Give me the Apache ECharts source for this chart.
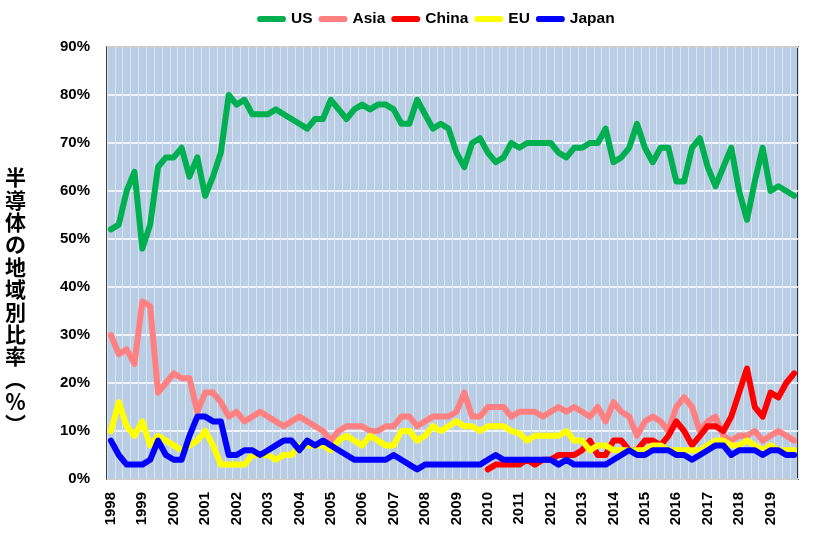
<!DOCTYPE html>
<html>
<head>
<meta charset="utf-8">
<title>半導体の地域別比率</title>
<script src="https://cdn.jsdelivr.net/npm/echarts@6/dist/echarts.min.js"></script>
<style>
html, body { margin: 0; padding: 0; background: #fff; }
#chart-1 { width: 821px; height: 539px; }
</style>
</head>
<body>
<div id="chart-1"></div>
<script>
// quarterly data, 1998Q1 - 2019Q4 (%)
var years = ['1998','1999','2000','2001','2002','2003','2004','2005','2006','2007','2008',
             '2009','2010','2011','2012','2013','2014','2015','2016','2017','2018','2019'];
var quarters = ['Q1','Q2','Q3','Q4'];

var usData = [
    52, 53, 60, 64, 48, 53, 65, 67, 67, 69,
    63, 67, 59, 63, 68, 80, 78, 79, 76, 76,
    76, 77, 76, 75, 74, 73, 75, 75, 79, 77,
    75, 77, 78, 77, 78, 78, 77, 74, 74, 79,
    76, 73, 74, 73, 68, 65, 70, 71, 68, 66,
    67, 70, 69, 70, 70, 70, 70, 68, 67, 69,
    69, 70, 70, 73, 66, 67, 69, 74, 69, 66,
    69, 69, 62, 62, 69, 71, 65, 61, 65, 69,
    60, 54, 62, 69, 60, 61, 60, 59
];
var asiaData = [
    30, 26, 27, 24, 37, 36, 18, 20, 22, 21,
    21, 14, 18, 18, 16, 13, 14, 12, 13, 14,
    13, 12, 11, 12, 13, 12, 11, 10, 8, 10,
    11, 11, 11, 10, 10, 11, 11, 13, 13, 11,
    12, 13, 13, 13, 14, 18, 13, 13, 15, 15,
    15, 13, 14, 14, 14, 13, 14, 15, 14, 15,
    14, 13, 15, 12, 16, 14, 13, 9, 12, 13,
    12, 10, 15, 17, 15, 10, 12, 13, 9, 8,
    9, 9, 10, 8, 9, 10, 9, 8
];
var chinaData = [
    null, null, null, null, null, null, null, null, null, null,
    null, null, null, null, null, null, null, null, null, null,
    null, null, null, null, null, null, null, null, null, null,
    null, null, null, null, null, null, null, null, null, null,
    null, null, null, null, null, null, null, null, 2, 3,
    3, 3, 3, 4, 3, 4, 4, 5, 5, 5,
    6, 8, 5, 5, 8, 8, 6, 6, 8, 8,
    7, 9, 12, 10, 7, 9, 11, 11, 10, 13,
    18, 23, 15, 13, 18, 17, 20, 22
];
var euData = [
    10, 16, 11, 9, 12, 7, 9, 8, 7, 6,
    7, 8, 10, 7, 3, 3, 3, 3, 5, 5,
    5, 4, 5, 5, 7, 7, 7, 7, 6, 8,
    9, 8, 7, 9, 8, 7, 7, 10, 10, 8,
    9, 11, 10, 11, 12, 11, 11, 10, 11, 11,
    11, 10, 9.5, 8, 9, 9, 9, 9, 10, 8,
    8, 6, 7, 7, 6, 6, 6, 6, 6, 7,
    7, 6, 6, 6, 6, 6, 7, 8, 8, 7,
    7, 8, 7, 6, 7, 6, 6, 6
];
var japanData = [
    8, 5, 3, 3, 3, 4, 8, 5, 4, 4,
    9, 13, 13, 12, 12, 5, 5, 6, 6, 5,
    6, 7, 8, 8, 6, 8, 7, 8, 7, 6,
    5, 4, 4, 4, 4, 4, 5, 4, 3, 2,
    3, 3, 3, 3, 3, 3, 3, 3, 4, 5,
    4, 4, 4, 4, 4, 4, 4, 3, 4, 3,
    3, 3, 3, 3, 4, 5, 6, 5, 5, 6,
    6, 6, 5, 5, 4, 5, 6, 7, 7, 5,
    6, 6, 6, 5, 6, 6, 5, 5
];

var categories = [];
years.forEach(function (y) {
    quarters.forEach(function (q) {
        categories.push(y + q);
    });
});

var names = ['US', 'Asia', 'China', 'EU', 'Japan'];
var colors = ['#00b050', '#ff8080', '#ff0000', '#ffff00', '#0000ff'];
var values = [usData, asiaData, chinaData, euData, japanData];
var yName = '半導体の地域別比率︵％︶';

var dom = document.getElementById('chart-1');
var myChart = echarts.init(dom);
var font = "'Liberation Sans', Arial, sans-serif";

var series = names.map(function (name, i) {
    return {
        name: name,
        type: 'line',
        data: values[i],
        symbol: 'none',
        connectNulls: false,
        color: colors[i],
        lineStyle: { color: colors[i], width: 6, cap: 'round', join: 'round' }
    };
});

var option = {
    backgroundColor: '#fff',
    animation: false,
    legend: {
        data: names,
        left: 252,
        top: 6,
        itemWidth: 29,
        itemHeight: 7,
        itemGap: 6,
        icon: 'path://M3,0 L25,0 A3,3 0 0 1 25,6 L3,6 A3,3 0 0 1 3,0 Z',
        textStyle: { color: '#000', fontSize: 15.5, fontWeight: 'bold', fontFamily: font }
    },
    // vertical axis title, one character per line
    graphic: [{
        type: 'text',
        left: 5,
        top: 166,
        style: {
            text: yName.split('').join('\n'),
            fill: '#000',
            font: "bold 21px 'Noto Sans CJK JP', sans-serif",
            lineHeight: 22.4,
            align: 'center'
        }
    }],
    grid: {
        left: 107,
        right: 23,
        top: 47,
        bottom: 60,
        show: true,
        backgroundColor: '#b9cde5',
        borderColor: '#000',
        borderWidth: 1.5
    },
    xAxis: {
        type: 'category',
        data: categories,
        boundaryGap: true,
        axisLine: { show: false },
        axisTick: { show: false },
        axisLabel: {
            interval: 3,
            rotate: 90,
            margin: 13,
            color: '#000',
            fontSize: 15,
            fontWeight: 'bold',
            fontFamily: font,
            formatter: function (v) { return v.slice(0, 4); }
        },
        splitLine: { show: true, interval: 0, lineStyle: { color: '#dbe5f1', width: 1 } }
    },
    yAxis: {
        type: 'value',
        min: 0,
        max: 90,
        interval: 10,
        axisLine: { show: false },
        axisTick: { show: false },
        axisLabel: {
            margin: 17,
            color: '#000',
            fontSize: 15,
            fontWeight: 'bold',
            fontFamily: font,
            formatter: '{value}%'
        },
        splitLine: { lineStyle: { color: '#ffffff', width: 1.5 } }
    },
    series: series
};

if (option && typeof option === 'object') {
    myChart.setOption(option, true);
}
</script>
</body>
</html>
